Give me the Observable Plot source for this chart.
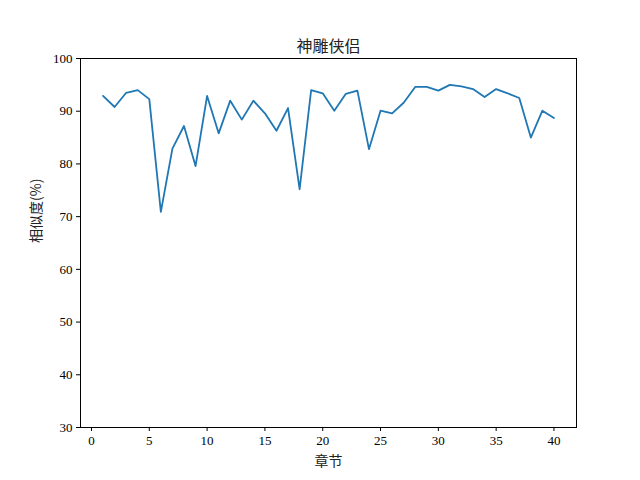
<!DOCTYPE html>
<html>
<head>
<meta charset="utf-8">
<script src="https://cdn.jsdelivr.net/npm/d3@7"></script>
<script src="https://cdn.jsdelivr.net/npm/@observablehq/plot@0.6"></script>
<style>
  html, body { margin: 0; padding: 0; background: white; }
</style>
</head>
<body>
<div id="chart"></div>
<script>
const chapters = [1,2,3,4,5,6,7,8,9,10,11,12,13,14,15,16,17,18,19,20,21,22,23,24,25,26,27,28,29,30,31,32,33,34,35,36,37,38,39,40];
const similarity = [92.9,90.8,93.5,94.0,92.3,70.9,82.9,87.2,79.6,92.9,85.8,92.0,88.4,92.0,89.6,86.3,90.6,75.2,94.0,93.4,90.1,93.3,93.9,82.8,90.1,89.6,91.6,94.6,94.6,93.9,95.0,94.7,94.2,92.7,94.2,93.4,92.5,85.0,90.1,88.7];
const xTicks = [0,5,10,15,20,25,30,35,40];
const yTicks = [30,40,50,60,70,80,90,100];
const title = "神雕侠侣";
const xLabel = "章节";
const yLabel = "相似度(%)";

const data = chapters.map((c, i) => ({chapter: c, value: similarity[i]}));
const numFont = "'Liberation Serif', 'DejaVu Serif', serif";
const cjkFont = "'Noto Sans CJK SC', sans-serif";

const chart = Plot.plot({
  width: 640,
  height: 480,
  marginLeft: 80,
  marginRight: 64,
  marginTop: 58,
  marginBottom: 53,
  style: {fontFamily: numFont, fontSize: "13px", color: "black", background: "white"},
  x: {domain: [-0.95, 41.95]},
  y: {domain: [30, 100]},
  marks: [
    Plot.frame({stroke: "black", strokeWidth: 1}),
    Plot.axisX({ticks: xTicks, tickSize: 4, tickPadding: 4, label: null, fontSize: 13, stroke: "black", fill: "black"}),
    Plot.axisY({ticks: yTicks, tickSize: 4, tickPadding: 4, label: null, fontSize: 13, stroke: "black", fill: "black"}),
    Plot.line(data, {x: "chapter", y: "value", stroke: "#1f77b4", strokeWidth: 1.8}),
    Plot.text([title], {frameAnchor: "top", dy: -18, fontSize: 16, fontFamily: cjkFont, fill: "#222"}),
    Plot.text([xLabel], {frameAnchor: "bottom", dy: 38, fontSize: 14, fontFamily: cjkFont, fill: "#222"}),
    Plot.text([yLabel], {frameAnchor: "left", dx: -44, rotate: -90, fontSize: 14, fontFamily: cjkFont, fill: "#222"})
  ]
});
document.getElementById("chart").appendChild(chart);
</script>
</body>
</html>
